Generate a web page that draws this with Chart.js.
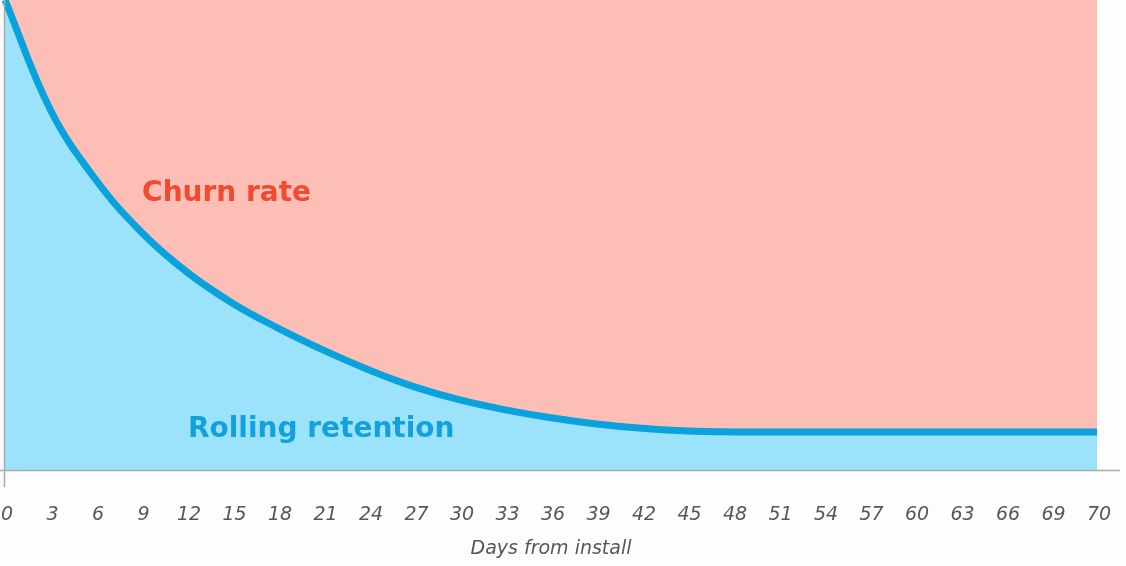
<!DOCTYPE html>
<html>
<head>
<meta charset="utf-8">
<title>Rolling retention vs churn rate</title>
<script src="https://cdn.jsdelivr.net/npm/chart.js@4.4.1/dist/chart.umd.min.js"></script>
<style>
    html, body { margin: 0; padding: 0; background: #fdfdfd; }
    #chart-canvas { display: block; }
</style>
</head>
<body>
<canvas id="chart-canvas" width="1126" height="566"></canvas>
<script>
// Days from install (x axis categories)
const dayLabels = ['0', '3', '6', '9', '12', '15', '18', '21', '24', '27', '30', '33', '36',
    '39', '42', '45', '48', '51', '54', '57', '60', '63', '66', '69', '70'];

// Rolling retention, % of installs still active
const retentionValues = [100, 76.6, 61.7, 50.6, 42.1, 35.5, 30.2, 25.5, 21.3, 17.7, 14.9, 12.8, 11.1,
    9.8, 8.9, 8.3, 8.1, 8.1, 8.1, 8.1, 8.1, 8.1, 8.1, 8.1, 8.1];

// Upper bound of the churn area (everything above the retention curve)
const churnCeiling = [100, 100, 100, 100, 100, 100, 100, 100, 100, 100, 100, 100, 100,
    100, 100, 100, 100, 100, 100, 100, 100, 100, 100, 100, 100];

// Where the two area captions sit, in chart units [category index, value]
const churnCaption = { text: 'Churn rate', at: [4.87, 57.2], color: '#f04a30' };
const retentionCaption = { text: 'Rolling retention', at: [6.95, 7.0], color: '#14a0dc' };

// Draw captions and axis lines on top of the areas
const overlayPlugin = {
    id: 'overlay',
    afterDatasetsDraw(chart) {
        const ctx = chart.ctx;
        const x = chart.scales.x;
        const y = chart.scales.y;
        ctx.save();
        ctx.font = 'bold 28px "DejaVu Sans", sans-serif';
        ctx.textAlign = 'center';
        ctx.textBaseline = 'alphabetic';
        [churnCaption, retentionCaption].forEach((c) => {
            ctx.fillStyle = c.color;
            ctx.fillText(c.text, x.getPixelForValue(c.at[0]), y.getPixelForValue(c.at[1]));
        });

        // Axis lines like the original: x axis runs past the plot, y axis drops below it
        const area = chart.chartArea;
        ctx.strokeStyle = '#a9a9ae';
        ctx.lineWidth = 1.5;
        ctx.beginPath();
        ctx.moveTo(0, area.bottom + 0.5);
        ctx.lineTo(area.right + 23, area.bottom + 0.5);
        ctx.moveTo(area.left - 0.5, area.top);
        ctx.lineTo(area.left - 0.5, area.bottom + 17);
        ctx.stroke();
        ctx.restore();
    }
};

document.addEventListener('DOMContentLoaded', function () {
    const ctx = document.getElementById('chart-canvas').getContext('2d');

    new Chart(ctx, {
        type: 'line',
        data: {
            labels: dayLabels,
            datasets: [
                {
                    label: 'Rolling retention',
                    data: retentionValues,
                    borderColor: '#0aa2dd',
                    borderWidth: 7,
                    backgroundColor: 'rgb(155, 227, 251)',
                    fill: 'origin',
                    pointRadius: 0,
                    tension: 0.4,
                },
                {
                    label: 'Churn rate',
                    data: churnCeiling,
                    borderWidth: 0,
                    borderColor: 'rgba(0, 0, 0, 0)',
                    backgroundColor: 'rgb(253, 190, 181)',
                    fill: '-1',
                    pointRadius: 0,
                },
            ],
        },
        options: {
            responsive: false,
            animation: false,
            devicePixelRatio: 1,
            layout: { padding: { left: 5, right: 29, top: 0, bottom: 0 } },
            plugins: {
                legend: { display: false },
                tooltip: { enabled: false },
            },
            scales: {
                x: {
                    grid: { display: false, drawTicks: false },
                    border: { display: false },
                    ticks: {
                        autoSkip: false,
                        maxRotation: 0,
                        padding: 34,
                        labelOffset: 2,
                        color: '#5a5658',
                        font: { family: '"DejaVu Sans", sans-serif', size: 19, style: 'italic' },
                    },
                    title: {
                        display: true,
                        text: 'Days from install',
                        color: '#5a5658',
                        padding: { top: 0, bottom: 6 },
                        font: { family: '"DejaVu Sans", sans-serif', size: 19, style: 'italic' },
                    },
                    afterFit(scale) {
                        // keep the plot at full width and the axis band a fixed height
                        scale.paddingLeft = 0;
                        scale.paddingRight = 0;
                        scale.height = 96;
                    },
                },
                y: {
                    display: false,
                    min: 0,
                    max: 100,
                },
            },
        },
        plugins: [overlayPlugin],
    });
});
</script>
</body>
</html>
